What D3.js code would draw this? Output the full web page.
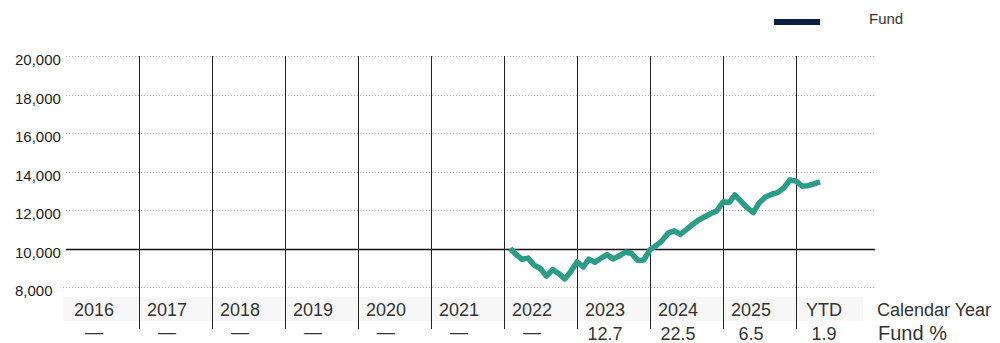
<!DOCTYPE html>
<html>
<head>
<meta charset="utf-8">
<script src="https://cdn.jsdelivr.net/npm/d3@7"></script>
<style>
  html, body { margin: 0; padding: 0; background: #fff; }
  svg { display: block; font-family: "Liberation Sans", Arial, sans-serif; }
</style>
</head>
<body>
<svg id="chart" width="1000" height="343"></svg>
<script>
// Calendar-year columns and the fund's annual return row
const years = ["2016", "2017", "2018", "2019", "2020", "2021", "2022", "2023", "2024", "2025", "YTD"];
const fundReturns = ["—", "—", "—", "—", "—", "—", "—", "12.7", "22.5", "6.5", "1.9"];

// Y-axis ticks (growth of 10,000)
const yTicks = [8000, 10000, 12000, 14000, 16000, 18000, 20000];

// Month-end dates and growth-of-10,000 values
const months = [
  "2022-01", "2022-02", "2022-03", "2022-04", "2022-05", "2022-06", "2022-07", "2022-08", "2022-09", "2022-10", "2022-11", "2022-12",
  "2023-01", "2023-02", "2023-03", "2023-04", "2023-05", "2023-06", "2023-07", "2023-08", "2023-09", "2023-10", "2023-11", "2023-12",
  "2024-01", "2024-02", "2024-03", "2024-04", "2024-05", "2024-06", "2024-07", "2024-08", "2024-09", "2024-10", "2024-11", "2024-12",
  "2025-01", "2025-02", "2025-03", "2025-04", "2025-05", "2025-06", "2025-07", "2025-08", "2025-09", "2025-10", "2025-11", "2025-12",
  "2026-01", "2026-02", "2026-03", "2026-04"
];
const fundValues = [
  10000, 9700, 9440, 9500, 9130, 8960, 8570, 8900, 8700, 8420, 8800, 9300,
  9040, 9450, 9280, 9500, 9680, 9460, 9620, 9820, 9740, 9380, 9400, 9930,
  10150, 10400, 10800, 10920, 10740, 10980, 11250, 11480, 11650, 11820, 11960, 12420,
  12400, 12780, 12450, 12120, 11860, 12380, 12680, 12820, 12900, 13150, 13560, 13500,
  13240, 13260, 13360, 13460
];

const svg = d3.select("#chart");
const plotLeft = 66, plotRight = 869, plotTop = 56, plotBottom = 287;

// Month-end: the first day of the following month
const parseMonth = d3.timeParse("%Y-%m");
const series = months.map((m, i) => ({ date: d3.timeMonth.offset(parseMonth(m), 1), value: fundValues[i] }));

const x = d3.scaleTime()
  .domain([new Date(2016, 0, 1), new Date(2027, 0, 1)])
  .range([plotLeft, plotRight]);

const cols = d3.scaleBand().domain(years).range([plotLeft, plotRight]).padding(0);

const y = d3.scaleLinear().domain([8000, 20000]).range([plotBottom, plotTop]);

// Calendar-year label band
svg.append("rect")
  .attr("x", 63).attr("y", 297)
  .attr("width", 800).attr("height", 24)
  .attr("fill", "#f7f7f7");

// Horizontal grid
svg.append("g").selectAll("line")
  .data(yTicks.filter(d => d !== 10000))
  .join("line")
  .attr("x1", d => d === 8000 ? 63 : plotLeft).attr("x2", 874)
  .attr("y1", d => Math.round(y(d)) + 0.5).attr("y2", d => Math.round(y(d)) + 0.5)
  .attr("stroke", "#b5b5b5")
  .attr("stroke-width", 1)
  .attr("stroke-dasharray", "1,2");

// Y-axis labels
svg.append("g").selectAll("text")
  .data(yTicks)
  .join("text")
  .attr("x", 15)
  .attr("y", d => y(d) + 9)
  .attr("font-size", 15)
  .attr("fill", "#222")
  .text(d => d3.format(",")(d));

// Year separators
svg.append("g").selectAll("line")
  .data(years.slice(1))
  .join("line")
  .attr("x1", d => Math.round(cols(d)) + 0.5)
  .attr("x2", d => Math.round(cols(d)) + 0.5)
  .attr("y1", plotTop).attr("y2", 329)
  .attr("stroke", "#222")
  .attr("stroke-width", 1);

// Baseline at 10,000
svg.append("line")
  .attr("x1", plotLeft).attr("x2", 875)
  .attr("y1", Math.round(y(10000)) + 0.5).attr("y2", Math.round(y(10000)) + 0.5)
  .attr("stroke", "#111")
  .attr("stroke-width", 1.3);

// Fund growth line
svg.append("path")
  .datum(series)
  .attr("fill", "none")
  .attr("stroke", "#2b9c88")
  .attr("stroke-width", 5.5)
  .attr("stroke-linejoin", "round")
  .attr("stroke-linecap", "butt")
  .attr("d", d3.line().x(d => x(d.date)).y(d => y(d.value)));

// Year labels
svg.append("g").selectAll("text")
  .data(years)
  .join("text")
  .attr("x", d => cols(d) + 28)
  .attr("y", 315.5)
  .attr("text-anchor", "middle")
  .attr("font-size", 18)
  .attr("fill", "#333")
  .text(d => d);

svg.append("text")
  .attr("x", 877).attr("y", 315.5)
  .attr("font-size", 18)
  .attr("fill", "#333")
  .text("Calendar Year");

// Fund % row
svg.append("g").selectAll("text")
  .data(years.map((yr, i) => ({ yr, r: fundReturns[i] })))
  .join("text")
  .attr("x", d => cols(d.yr) + 28)
  .attr("y", d => d.r === "—" ? 338 : 340)
  .attr("text-anchor", "middle")
  .attr("font-size", 18)
  .attr("fill", "#333")
  .text(d => d.r);

svg.append("text")
  .attr("x", 878).attr("y", 340)
  .attr("font-size", 20)
  .attr("fill", "#333")
  .text("Fund %");

// Legend
svg.append("rect")
  .attr("x", 774).attr("y", 19)
  .attr("width", 46).attr("height", 6)
  .attr("fill", "#0b1e3e");
svg.append("text")
  .attr("x", 869).attr("y", 24)
  .attr("font-size", 15)
  .attr("fill", "#333")
  .text("Fund");
</script>
</body>
</html>
